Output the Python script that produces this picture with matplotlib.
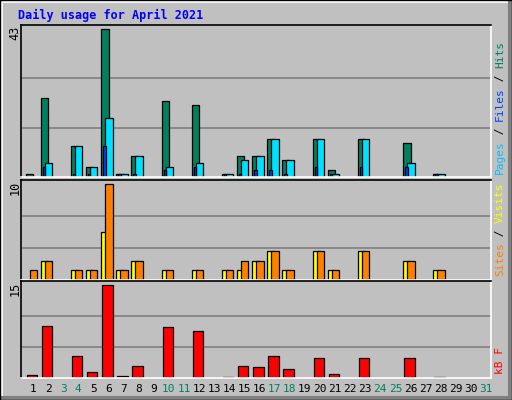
import matplotlib
matplotlib.use("Agg")
import matplotlib.pyplot as plt
from matplotlib.patches import Rectangle

days = list(range(1, 32))
weekend = [3, 4, 10, 11, 17, 18, 24, 25, 31]
hits = [1, 23, 0, 9, 3, 43, 1, 6, 0, 22, 0, 21, 0, 1, 6, 6, 11, 5, 0, 11, 2, 0, 11, 0, 0, 10, 0, 1, 0, 0, 0]
files = [0, 4, 0, 9, 3, 17, 1, 6, 0, 3, 0, 4, 0, 1, 5, 6, 11, 5, 0, 11, 1, 0, 11, 0, 0, 4, 0, 1, 0, 0, 0]
pages = [0, 3, 0, 1, 1, 9, 1, 1, 0, 2, 0, 3, 0, 1, 1, 2, 2, 1, 0, 3, 1, 0, 3, 0, 0, 3, 0, 1, 0, 0, 0]
visits = [0, 2, 0, 1, 1, 5, 1, 2, 0, 1, 0, 1, 0, 1, 1, 2, 3, 1, 0, 3, 1, 0, 3, 0, 0, 2, 0, 1, 0, 0, 0]
sites = [1, 2, 0, 1, 1, 10, 1, 2, 0, 1, 0, 1, 0, 1, 2, 2, 3, 1, 0, 3, 1, 0, 3, 0, 0, 2, 0, 1, 0, 0, 0]
kbytes = [0.55, 8.4, 0, 3.5, 0.9, 15, 0.4, 2.0, 0, 8.3, 0, 7.6, 0, 0.2, 2.0, 1.7, 3.5, 1.5, 0, 3.2, 0.7, 0, 3.2, 0, 0, 3.3, 0, 0.2, 0, 0, 0]

W, H = 512, 400
BG = "#C0C0C0"
MONO = "DejaVu Sans Mono"
fig = plt.figure(figsize=(W / 100, H / 100), dpi=100)
fig.patch.set_facecolor(BG)

# bevelled frame
frame = fig.add_axes((0, 0, 1, 1))
frame.set_xlim(0, W); frame.set_ylim(H, 0); frame.axis("off")
frame.plot([1, W - 2], [1, 1], color="white", lw=2)
frame.plot([1, 1], [1, H - 2], color="white", lw=2)
frame.plot([2, W - 1], [H - 2, H - 2], color="#808080", lw=3)
frame.plot([W - 2, W - 2], [2, H - 1], color="#808080", lw=3)
frame.plot([0, W, W, 0, 0], [0, 0, H, H, 0], color="black", lw=1)
frame.text(18, 15, "Daily usage for April 2021", color="#0000FF", fontsize=8.5,
           fontweight="bold", family=MONO, va="center")

X0, X1 = 20.7, 490.7
STEP = 15.1
LEFT0 = 5.0


def panel(top, bottom, vmax, label):
    ax = fig.add_axes((X0 / W, 1 - bottom / H, (X1 - X0) / W, (bottom - top) / H))
    ax.set_facecolor(BG)
    ax.set_xlim(0, X1 - X0)
    ax.set_ylim(0, vmax * (bottom - top) / (bottom - top - 4))
    for g in (vmax / 3, 2 * vmax / 3):
        ax.axhline(g, color="#808080", lw=1.2, zorder=0)
    ax.set_xticks([]); ax.set_yticks([])
    for s in ("top", "left"):
        ax.spines[s].set_color("black")
    for s in ("bottom", "right"):
        ax.spines[s].set_color("white")
    for s in ax.spines.values():
        s.set_linewidth(1.2)
    fig.text(15 / W, 1 - (top + 8) / H, label, rotation=90, fontsize=8.5, family=MONO,
             ha="center", va="center")
    return ax


def bars(ax, vals, off, width, color):
    for i, v in enumerate(vals):
        if v > 0:
            ax.add_patch(Rectangle((LEFT0 + i * STEP + off, 0), width, v, facecolor=color,
                                   edgecolor="black", lw=0.9, zorder=2))


ax1 = panel(25, 177, 43, "43")
bars(ax1, hits, 0, 7.3, "#008060")
bars(ax1, files, 4, 7.3, "#00E0FF")
bars(ax1, pages, 2, 2.3, "#0040FF")

ax2 = panel(180, 280, 10, "10")
bars(ax2, visits, 0, 7.3, "#FFFF00")
bars(ax2, sites, 4, 7.3, "#FF8000")

ax3 = panel(281, 378, 15, "15")
bars(ax3, kbytes, 1, 10.3, "#FF0000")

for i, d in enumerate(days):
    fig.text((X0 + 4.3 + i * STEP + 8) / W, 1 - 389 / H, str(d), fontsize=8, family=MONO,
             ha="center", va="center", color="#008060" if d in weekend else "black")

CH = 6.6  # vertical advance of one rotated character, px


def legend(parts, y):
    yy = y
    for txt, col in parts:
        fig.text(500 / W, 1 - yy / H, txt, rotation=90, fontsize=8, family=MONO,
                 color=col, ha="center", va="bottom")
        yy -= CH * len(txt)


legend([("Pages", "#00C0FF"), (" / ", "black"), ("Files", "#0040FF"), (" / ", "black"),
        ("Hits", "#008060")], 174)
legend([("Sites", "#FF8000"), (" / ", "black"), ("Visits", "#FFFF00")], 276)
legend([("kB F", "#FF0000")], 374)

fig.savefig("out.png", dpi=100, facecolor=BG)
